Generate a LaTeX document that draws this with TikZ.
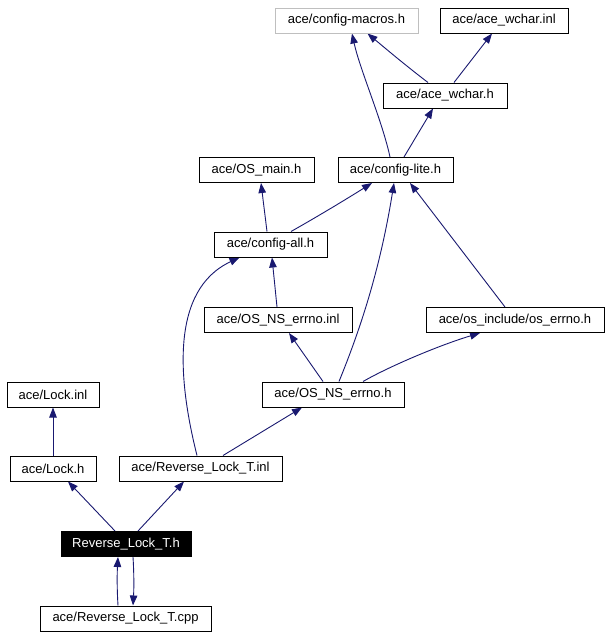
\documentclass[tikz,border=0pt]{standalone}
\usepackage{fontspec}
\setmainfont{Liberation Sans}
\usetikzlibrary{arrows.meta,backgrounds}
\definecolor{edgeblue}{HTML}{191970}
\definecolor{graybox}{HTML}{BFBFBF}
\tikzset{
  box/.style={draw=black, line width=1pt, fill=white, minimum height=25pt, inner sep=0pt, font=\fontsize{13}{15}\selectfont},
  graybox/.style={box, draw=graybox},
  curbox/.style={box, fill=black, text=white},
  edge/.style={draw=edgeblue, line width=0.9pt, -{Triangle[length=10pt,width=7.5pt]}},
}
\begin{document}
\begin{tikzpicture}[x=1pt,y=-1pt]
\useasboundingbox (0,0) rectangle (611,637);
\node[graybox, minimum width=143pt] (cm) at (346.5,20.5) {ace/config-macros.h};
\node[box, minimum width=128pt] (wi) at (504,20.5) {ace/ace\_wchar.inl};
\node[box, minimum width=124pt] (wh) at (445,95.5) {ace/ace\_wchar.h};
\node[box, minimum width=115pt] (cl) at (395.5,170) {ace/config-lite.h};
\node[box, minimum width=115pt] (om) at (256.5,170) {ace/OS\_main.h};
\node[box, minimum width=113pt] (ca) at (270.5,244.5) {ace/config-all.h};
\node[box, minimum width=148pt] (ei) at (278,320) {ace/OS\_NS\_errno.inl};
\node[box, minimum width=178pt] (oe) at (515,320) {ace/os\_include/os\_errno.h};
\node[box, minimum width=142pt] (eh) at (333,394.5) {ace/OS\_NS\_errno.h};
\node[box, minimum width=92pt] (li) at (53,394.5) {ace/Lock.inl};
\node[box, minimum width=86pt] (lh) at (53,468.5) {ace/Lock.h};
\node[box, minimum width=163pt] (ri) at (200.5,468.5) {ace/Reverse\_Lock\_T.inl};
\node[curbox, minimum width=130pt] (rh) at (126,544) {Reverse\_Lock\_T.h};
\node[box, minimum width=171pt] (rc) at (125.5,618.5) {ace/Reverse\_Lock\_T.cpp};

\begin{scope}[on background layer]
\fill[white] (0,0) rectangle (611,637);
\draw[edge] ([xshift=-5.5pt]cl.north) .. controls (382,120) and (360,70) .. ([xshift=5.5pt]cm.south);
\draw[edge] ([xshift=-17pt]wh.north) .. controls (405,65) and (385,48) .. ([xshift=21pt]cm.south);
\draw[edge] ([xshift=9pt]wh.north) -- ([xshift=-12pt]wi.south);
\draw[edge] ([xshift=8.5pt]cl.north) -- ([xshift=-12pt]wh.south);
\draw[edge] ([xshift=-3.5pt]ca.north) -- ([xshift=4.5pt]om.south);
\draw[edge] ([xshift=20.5pt]ca.north) .. controls (315,218) and (345,200) .. ([xshift=-23.5pt]cl.south);
\draw[edge] ([xshift=-1pt]ei.north) -- ([xshift=1.5pt]ca.south);
\draw[edge] ([xshift=-3.5pt]ri.north) .. controls (178,380) and (170,290) .. ([xshift=-31pt]ca.south);
\draw[edge] ([xshift=-10pt]eh.north) -- ([xshift=11pt]ei.south);
\draw[edge] ([xshift=6pt]eh.north) .. controls (360,330) and (380,270) .. ([xshift=-1.5pt]cl.south);
\draw[edge] ([xshift=30pt]eh.north) .. controls (390,366) and (440,345) .. ([xshift=-35pt]oe.south);
\draw[edge] ([xshift=-10pt]oe.north) -- ([xshift=14.5pt]cl.south);
\draw[edge] ([xshift=22.5pt]ri.north) -- ([xshift=-31pt]eh.south);
\draw[edge] (lh.north) -- (li.south);
\draw[edge] ([xshift=-11pt]rh.north) -- ([xshift=15pt]lh.south);
\draw[edge] ([xshift=12pt]rh.north) -- ([xshift=-16.5pt]ri.south);
\draw[edge] ([xshift=-7.5pt]rc.north) .. controls (117,590) and (117,575) .. ([xshift=-8pt]rh.south);
\draw[edge] ([xshift=7pt]rh.south) .. controls (134,572) and (134,588) .. ([xshift=7.5pt]rc.north);
\end{scope}
\end{tikzpicture}
\end{document}
